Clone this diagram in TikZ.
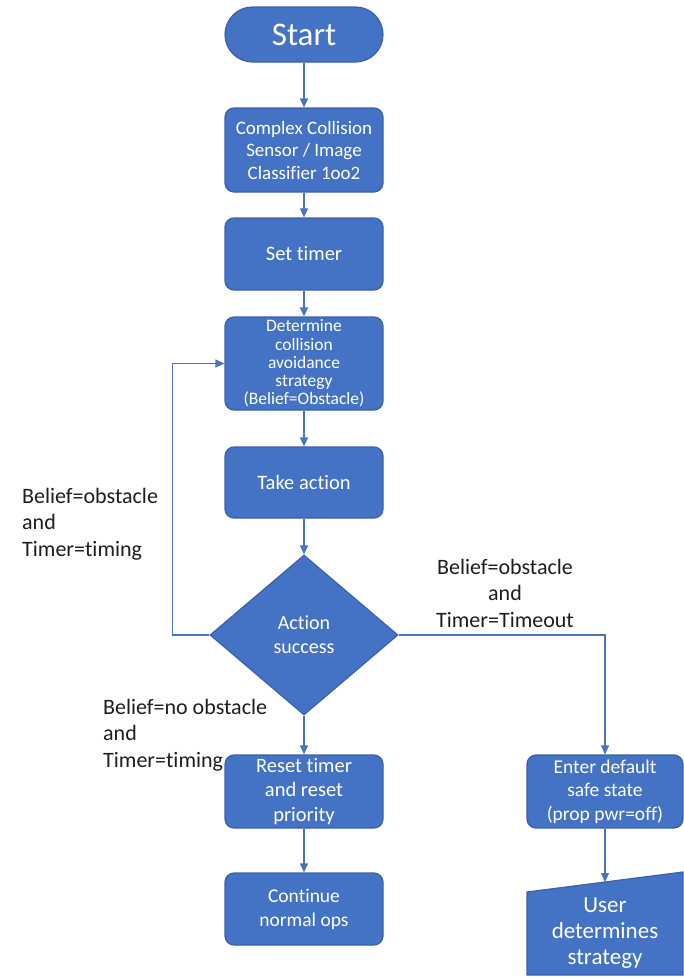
\documentclass[tikz,border=0pt]{standalone}
\usepackage{fontspec}
\setmainfont{Carlito}[RawFeature={-liga;-clig;-calt;-dlig}]
\usetikzlibrary{shapes.geometric,arrows.meta}
\definecolor{boxfill}{HTML}{4472C4}
\definecolor{boxedge}{HTML}{3A62AC}
\definecolor{linkcol}{HTML}{4A72BE}
\definecolor{labelcol}{HTML}{1E1E1E}

\begin{document}
\begin{tikzpicture}[x=1pt,y=-1pt,
  every node/.style={inner sep=0pt},
  proc/.style={draw=boxedge, line width=1.2pt, fill=boxfill, text=white,
    rounded corners=9pt, minimum width=158pt, align=center},
  conn/.style={draw=linkcol, line width=1.3pt, -{Triangle[length=9pt,width=8pt]}},
  cond/.style={text=labelcol, font=\fontsize{22}{26.5}\selectfont}]
\useasboundingbox (0,0) rectangle (683,980);

% condition labels (drawn first so boxes sit on top)
\node[cond, align=left, anchor=west] (lblloop) at (22,524) {Belief=obstacle\\and\\Timer=timing};
\node[cond, align=center] (lbltimeout) at (505,593) {Belief=obstacle\\and\\Timer=Timeout};
\node[cond, align=left, anchor=west] (lblclear) at (103,735) {Belief=no obstacle\\and\\Timer=timing};

% main column
\node[proc, minimum height=55pt, rounded corners=27.5pt,
  font=\fontsize{33}{36}\selectfont] (start) at (304,34.5) {Start};
\node[proc, minimum height=84pt, font=\fontsize{19}{22.5}\selectfont] (sensor) at (304,150)
  {Complex Collision\\Sensor / Image\\Classifier 1oo2};
\node[proc, minimum height=72pt, font=\fontsize{20.5}{24}\selectfont] (timer) at (304,254) {Set timer};
\node[proc, minimum height=93pt, font=\fontsize{17.5}{18.3}\selectfont] (strategy) at (304,363.5)
  {Determine\\collision\\avoidance\\strategy\\(Belief=Obstacle)};
\node[proc, minimum height=71pt, font=\fontsize{20.5}{24}\selectfont] (action) at (304,482.5) {Take action};
\node[diamond, draw=boxedge, line width=1.2pt, fill=boxfill, text=white,
  minimum width=188pt, minimum height=160pt, align=center,
  font=\fontsize{20}{24}\selectfont] (success) at (304,635) {Action\\success};
\node[proc, minimum height=73pt, font=\fontsize{20.5}{24.5}\selectfont] (reset) at (304,791.5)
  {Reset timer\\and reset\\priority};
\node[proc, minimum height=72pt, font=\fontsize{19.5}{24}\selectfont] (normal) at (304,909)
  {Continue\\normal ops};

% timeout branch
\node[proc, minimum width=156pt, minimum height=73pt, font=\fontsize{19.5}{23.5}\selectfont]
  (safe) at (605,791.5) {Enter default\\safe state\\(prop pwr=off)};
\draw[draw=boxedge, line width=1.2pt, fill=boxfill]
  (527,892) -- (683,872) -- (683,975) -- (527,975) -- cycle;
\coordinate (usertop) at (605,882);
\node[text=white, align=center, font=\fontsize{23}{26}\selectfont] (user) at (605,933)
  {User\\determines\\strategy};

% connectors
\draw[conn] (start) -- (sensor);
\draw[conn] (sensor) -- (timer);
\draw[conn] (timer) -- (strategy);
\draw[conn] (strategy) -- (action);
\draw[conn] (action) -- (success);
\draw[conn] (success) -- (reset);
\draw[conn] (reset) -- (normal);
\draw[conn] (safe) -- (usertop);
\draw[conn] (success.west) -- ++(-37,0) |- (strategy.west);
\draw[conn] (success.east) -| (safe.north);
\end{tikzpicture}
\end{document}
